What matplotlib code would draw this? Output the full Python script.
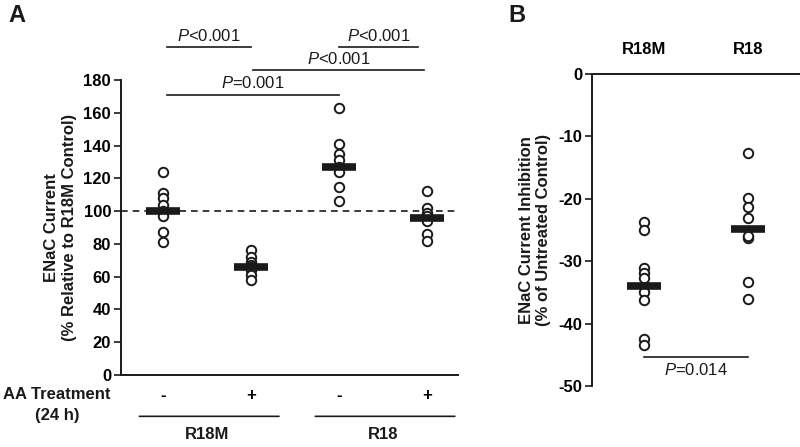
import numpy as np
import matplotlib.pyplot as plt

plt.rcParams['font.family'] = ['Liberation Sans', 'DejaVu Sans']
plt.rcParams['mathtext.fontset'] = 'custom'
plt.rcParams['mathtext.it'] = 'Liberation Sans:italic'
plt.rcParams['mathtext.rm'] = 'Liberation Sans'
plt.rcParams['axes.unicode_minus'] = False

# panel A: ENaC current, % relative to R18M control
a_groups = ['R18M -', 'R18M +', 'R18 -', 'R18 +']
a_ticks = ['-', '+', '-', '+']
a_points = [
    [124, 111, 108, 104, 100, 97, 87, 81],
    [76, 72, 69, 67, 66, 64, 61, 58],
    [163, 141, 135, 131, 127, 124, 115, 106],
    [112, 102, 99, 97, 94, 86, 82],
]
a_means = [100, 66, 127, 96]
a_sig = [  # (x1, x2, y, label)
    (1.05, 2.0, 200, r'$\mathit{P}$<0.001'),
    (3.0, 3.9, 200, r'$\mathit{P}$<0.001'),
    (2.02, 3.97, 186, r'$\mathit{P}$<0.001'),
    (1.05, 3.0, 171, r'$\mathit{P}$=0.001'),
]

# panel B: inhibition, % of untreated control
b_groups = ['R18M', 'R18']
b_points = [
    [-23.8, -25.0, -31.1, -31.9, -32.7, -34.9, -36.2, -42.4, -43.4],
    [-12.6, -19.9, -21.3, -23.1, -26.3, -26.0, -33.4, -36.0],
]
b_means = [-33.9, -24.8]

fig = plt.figure(figsize=(8, 4.47), dpi=100)
axA = fig.add_axes([0.151, 0.161, 0.421, 0.66])
axB = fig.add_axes([0.74, 0.1365, 0.26, 0.698])

dark = '#1a1a1a'
fs = 12
mk = dict(marker='o', ls='none', mfc='white', mec=dark, ms=6.8, mew=1.4)

# ---- panel A
for i, pts in enumerate(a_points):
    x = i + 1
    axA.plot([x] * len(pts), pts, **mk, zorder=2)
    axA.hlines(a_means[i], x - 0.19, x + 0.19, color=dark, lw=5.5, zorder=3)
axA.axhline(100, color=dark, ls=(0, (4, 3)), lw=1.2, zorder=1)
axA.set_xlim(0.52, 4.35)
axA.set_ylim(0, 180)
axA.set_yticks(np.arange(0, 181, 20))
axA.set_xticks([1, 2, 3, 4])
axA.set_xticklabels(a_ticks, fontsize=fs, fontweight='bold')
axA.tick_params(axis='x', length=0, pad=9)
axA.tick_params(axis='y', length=5, width=1.2, labelsize=fs, color=dark, pad=2)
for lab in axA.get_yticklabels():
    lab.set_fontweight('bold')
for s in ['top', 'right']:
    axA.spines[s].set_visible(False)
for s in ['left', 'bottom']:
    axA.spines[s].set_linewidth(1.4)
    axA.spines[s].set_color(dark)
axA.set_ylabel('ENaC Current\n(% Relative to R18M Control)', fontsize=fs,
               fontweight='bold', labelpad=5, color=dark)
for x1, x2, y, lab in a_sig:
    axA.plot([x1, x2], [y, y], color=dark, lw=1.2, clip_on=False)
    axA.text((x1 + x2) / 2, y + 2.2, lab, ha='center', va='bottom',
             fontsize=fs, color=dark)

# bottom labels (treatment and construct)
fig.text(0.138, 0.117, 'AA Treatment', ha='right', va='center', fontsize=fs,
         fontweight='bold', color=dark)
fig.text(0.072, 0.071, '(24 h)', ha='center', va='center', fontsize=fs,
         fontweight='bold', color=dark)
for (x0, x1), name in zip([(1, 2), (3, 4)], ['R18M', 'R18']):
    axA.annotate('', xy=(x0 - 0.3, -0.14), xytext=(x1 + 0.35, -0.14),
                 xycoords=('data', 'axes fraction'),
                 arrowprops=dict(arrowstyle='-', color=dark, lw=1.2))
    axA.text((x0 + x1) / 2, -0.2, name, transform=axA.get_xaxis_transform(),
             ha='center', va='center', fontsize=fs, fontweight='bold', color=dark)

# ---- panel B
for i, pts in enumerate(b_points):
    x = i + 1
    axB.plot([x] * len(pts), pts, **mk, zorder=2)
    axB.hlines(b_means[i], x - 0.16, x + 0.16, color=dark, lw=5.5, zorder=3)
axB.set_xlim(0.5, 2.5)
axB.set_ylim(-50, 0)
axB.set_yticks(np.arange(-50, 1, 10))
axB.xaxis.tick_top()
axB.set_xticks([1, 2])
axB.set_xticklabels(b_groups, fontsize=fs, fontweight='bold')
axB.tick_params(axis='x', length=0, pad=12)
axB.tick_params(axis='y', length=5, width=1.2, labelsize=fs, color=dark, pad=2)
for lab in axB.get_yticklabels():
    lab.set_fontweight('bold')
for s in ['bottom', 'right']:
    axB.spines[s].set_visible(False)
for s in ['left', 'top']:
    axB.spines[s].set_linewidth(1.4)
    axB.spines[s].set_color(dark)
axB.set_ylabel('ENaC Current Inhibition\n(% of Untreated Control)', fontsize=fs,
               fontweight='bold', labelpad=5, color=dark)
axB.plot([1, 2], [-45.4, -45.4], color=dark, lw=1.2)
axB.text(1.5, -46.2, r'$\mathit{P}$=0.014', ha='center', va='top', fontsize=fs,
         color=dark)

fig.text(0.01, 0.965, 'A', fontsize=17, fontweight='bold', va='center', color=dark)
fig.text(0.635, 0.965, 'B', fontsize=17, fontweight='bold', va='center', color=dark)

fig.savefig('out.png', dpi=100)
